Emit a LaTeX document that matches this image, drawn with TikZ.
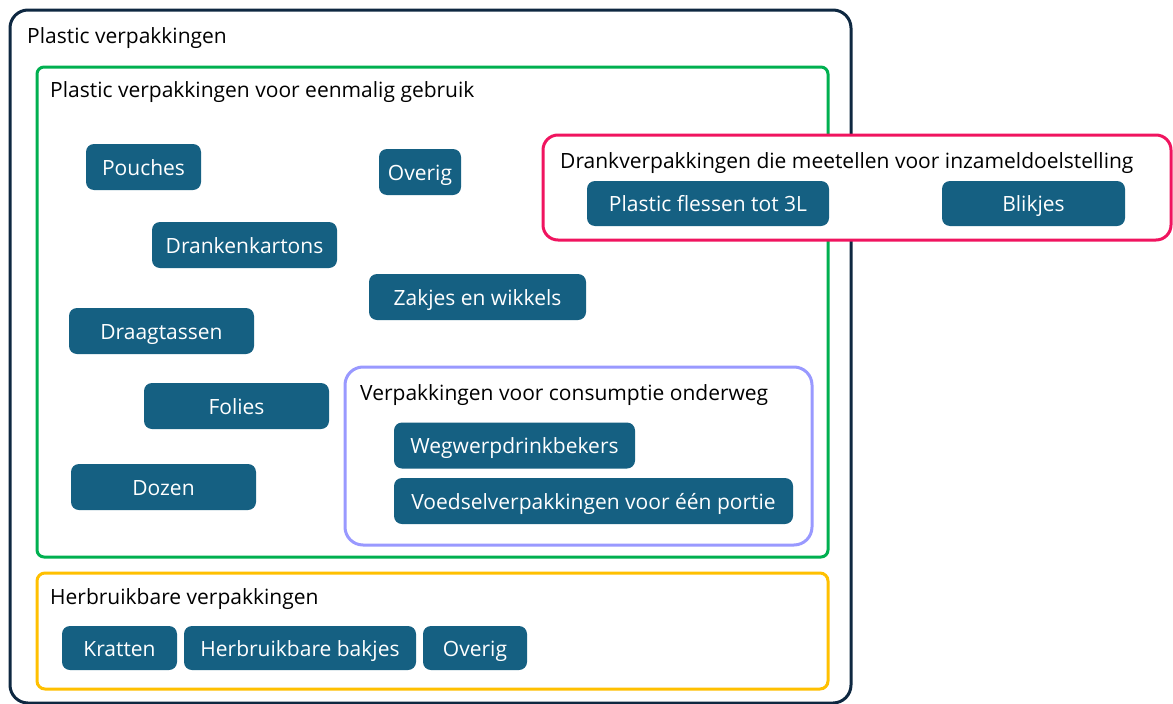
\documentclass[tikz,border=0pt]{standalone}
\usepackage{fontspec}
\setmainfont{Open Sans}
\usetikzlibrary{positioning}
\definecolor{navy}{HTML}{0E2841}
\definecolor{pillblue}{HTML}{156082}
\definecolor{boxgreen}{HTML}{00B050}
\definecolor{boxpink}{HTML}{F0145F}
\definecolor{boxpurple}{HTML}{9999FF}
\definecolor{boxyellow}{HTML}{FFC000}

\begin{document}
\begin{tikzpicture}[x=1pt, y=-1pt, font=\fontsize{21}{25}\selectfont,
  frame/.style={draw, line width=3pt, fill=white, inner sep=0pt},
  pill/.style={fill=pillblue, text=white, rounded corners=8pt, minimum height=46pt, inner sep=0pt, text height=16pt, text depth=0pt},
  title/.style={anchor=base west, inner sep=0pt, text=black}]
\useasboundingbox (0,0) rectangle (1173,704);
\node[frame, draw=navy, rounded corners=18pt, minimum width=841pt, minimum height=693pt] (plastic) at (430.5,356.5) {};
\node[frame, draw=boxgreen, rounded corners=7pt, minimum width=791pt, minimum height=490pt] (eenmalig) at (432.5,312) {};
\node[frame, draw=boxyellow, rounded corners=8pt, minimum width=791pt, minimum height=116pt] (herbruik) at (432.5,631) {};
\node[frame, draw=boxpurple, rounded corners=18pt, minimum width=467pt, minimum height=178pt] (onderweg) at (578.5,456) {};
\node[frame, draw=boxpink, rounded corners=15pt, minimum width=628pt, minimum height=105pt] (drank) at (857,187.5) {};
\node[title] (tplastic) at (27,43) {Plastic verpakkingen};
\node[title] (teenmalig) at (50,97) {Plastic verpakkingen voor eenmalig gebruik};
\node[title] (tdrank) at (560,168) {Drankverpakkingen die meetellen voor inzameldoelstelling};
\node[title] (tonderweg) at (360,400) {Verpakkingen voor consumptie onderweg};
\node[title] (therbruik) at (50,604) {Herbruikbare verpakkingen};
\node[pill, minimum width=115pt] (pouches) at (143.5,167) {Pouches};
\node[pill, minimum width=82pt] (overig) at (420,172) {Overig};
\node[pill, minimum width=185pt] (kartons) at (244.5,245) {Drankenkartons};
\node[pill, minimum width=217pt] (zakjes) at (477.5,297) {Zakjes en wikkels};
\node[pill, minimum width=185pt] (tassen) at (161.5,331) {Draagtassen};
\node[pill, minimum width=185pt] (folies) at (236.5,406) {Folies};
\node[pill, minimum width=185pt] (dozen) at (163.5,487) {Dozen};
\node[pill, minimum width=241pt] (bekers) at (514.5,445.5) {Wegwerpdrinkbekers};
\node[pill, minimum width=399pt] (voedsel) at (593.5,501) {Voedselverpakkingen voor één portie};
\node[pill, minimum width=242pt, minimum height=45pt] (flessen) at (708,203.5) {Plastic flessen tot 3L};
\node[pill, minimum width=183pt, minimum height=45pt] (blikjes) at (1033.5,203.5) {Blikjes};
\node[pill, minimum width=115pt, minimum height=44pt] (kratten) at (119.5,648) {Kratten};
\node[pill, minimum width=232pt, minimum height=44pt] (bakjes) at (300,648) {Herbruikbare bakjes};
\node[pill, minimum width=104pt, minimum height=44pt] (overig2) at (475,648) {Overig};
\end{tikzpicture}
\end{document}
